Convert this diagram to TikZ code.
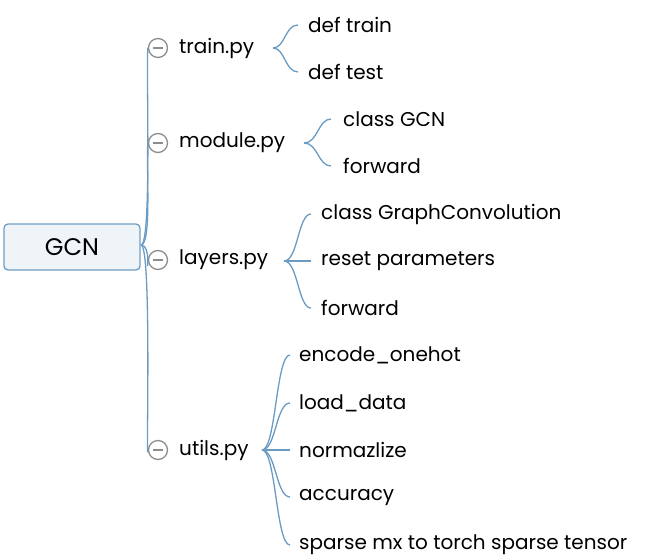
\documentclass[tikz,border=0pt]{standalone}
\usepackage{fontspec}
\setmainfont{Poppins}
\definecolor{ln}{HTML}{6A9BC3}
\definecolor{rb}{HTML}{6F9EC2}
\definecolor{rf}{HTML}{EEF4F8}
\begin{document}
\begin{tikzpicture}[x=1pt,y=-1pt,
  lbl/.style={anchor=west,inner sep=0pt,font=\fontsize{20}{22}\selectfont},
  br/.style={draw=ln,line width=1.3pt},
  col/.style={circle,draw=gray!90,line width=1.3pt,minimum size=19pt,inner sep=0pt}]
\useasboundingbox (0,0) rectangle (645,559);
\node[draw=rb,fill=rf,rounded corners=4pt,line width=1.3pt,minimum width=136pt,minimum height=46pt,font=\fontsize{24}{26}\selectfont] (root) at (72,247) {GCN};
\coordinate (r) at (141,245);
\foreach \n/\y/\t in {a/48/train.py,b/143/module.py,c/260/layers.py,d/450/utils.py}{
  \node[col] (c\n) at (158,\y) {};
  \draw[gray!90,line width=1.3pt] ([xshift=-5pt]c\n.center) -- ([xshift=5pt]c\n.center);
  \node[lbl] (t\n) at (179,\y) {\t};
  \draw[br] (r) .. controls (152,245) and (146,{\y+20}) .. (c\n.west);
}
\coordinate (ja) at (273,48);
\foreach \y/\t [count=\i] in {25/def train,72/def test}{
  \node[lbl] (a\i) at (308,\y) {\t};
  \draw[br] (ja) .. controls (285,48) and (285,\y) .. (298,\y);}
\coordinate (jb) at (304,143);
\foreach \y/\t [count=\i] in {119/class GCN,166/forward}{
  \node[lbl] (b\i) at (343,\y) {\t};
  \draw[br] (jb) .. controls (318,143) and (318,\y) .. (331,\y);}
\coordinate (jc) at (284,261);
\foreach \y/\t [count=\i] in {214/class GraphConvolution,261/reset parameters,308/forward}{
  \node[lbl] (cc\i) at (321,\y) {\t};
  \draw[br] (jc) .. controls (298,261) and (298,\y) .. (311,\y);}
\coordinate (jd) at (262,450);
\foreach \y/\t [count=\i] in {355/encode\_onehot,403/load\_data,450/normazlize,497/accuracy,545/sparse mx to torch sparse tensor}{
  \node[lbl] (d\i) at (299,\y) {\t};
  \draw[br] (jd) .. controls (276,450) and (276,\y) .. (290,\y);}
\end{tikzpicture}
\end{document}
